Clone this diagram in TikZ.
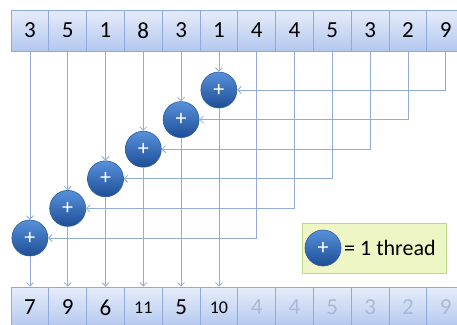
\documentclass[tikz,border=0pt]{standalone}
\usepackage{fontspec}
\setmainfont{Carlito}
\usetikzlibrary{arrows.meta,calc}
\definecolor{cellline}{HTML}{8FAADC}
\definecolor{celltop}{HTML}{E6EDFA}
\definecolor{cellbot}{HTML}{B3C7EE}
\definecolor{wire}{HTML}{92ACD9}
\definecolor{balltop}{HTML}{5791DA}
\definecolor{ballbot}{HTML}{1D4E96}
\definecolor{ballline}{HTML}{2C5C9E}
\definecolor{fadetext}{HTML}{A9B9D9}
\definecolor{legfill}{HTML}{EEF6C6}
\definecolor{legline}{HTML}{C3D58A}
\tikzset{
  cell/.style={draw=cellline, line width=0.8pt, top color=celltop, bottom color=cellbot,
    minimum width=37.8pt, minimum height=41pt, inner sep=0pt, font=\fontsize{23}{23}\selectfont},
  adder/.style={circle, draw=ballline, line width=0.6pt, top color=balltop, bottom color=ballbot,
    minimum size=36pt, inner sep=0pt, text=white, font=\fontsize{22}{22}\selectfont},
  wireline/.style={draw=wire, line width=0.8pt},
  arr/.style={wireline, -{Straight Barb[length=3.5pt,width=7pt]}},
  legendbox/.style={draw=legline, fill=legfill, line width=0.8pt, minimum width=144pt, minimum height=50pt, inner sep=0pt}
}
\begin{document}
\begin{tikzpicture}[x=1pt,y=-1pt]
\useasboundingbox (0,0) rectangle (457,324);
\clip (0,0) rectangle (457,324);
\fill[white] (0,0) rectangle (457,324);
% top row
\foreach \v [count=\i from 0] in {3,5,1,8,3,1,4,4,5,3,2,9} {
  \node[cell] (t\i) at ({11+37.8*(\i+0.5)},30.5) {\v};
}
% bottom row
\foreach \v/\c/\s [count=\i from 0] in {7/black/23,9/black/23,6/black/23,11/black/18,5/black/23,10/black/18,4/fadetext/23,4/fadetext/23,5/fadetext/23,3/fadetext/23,2/fadetext/23,9/fadetext/23} {
  \node[cell, text=\c, font=\fontsize{\s}{\s}\selectfont] (b\i) at ({11+37.8*(\i+0.5)},307.5) {\v};
}
% adders
\foreach \i in {0,...,5} {
  \node[adder] (c\i) at ({11+37.8*(\i+0.5)},{238-29.6*\i}) {+};
}
% connectors
\foreach \i [evaluate=\i as \j using int(\i+6)] in {0,...,5} {
  \draw[arr] (t\i.south) -- (c\i.north);
  \draw[arr] (t\j.south) |- (c\i.east);
  \draw[arr] (c\i.south) -- (b\i.north);
}
% legend
\node[legendbox] (leg) at (374,248) {};
\node[adder] (legc) at (323,248) {+};
\node[anchor=west, inner sep=0pt, font=\fontsize{22}{22}\selectfont] (legt) at (344,248) {= 1 thread};
\end{tikzpicture}
\end{document}
